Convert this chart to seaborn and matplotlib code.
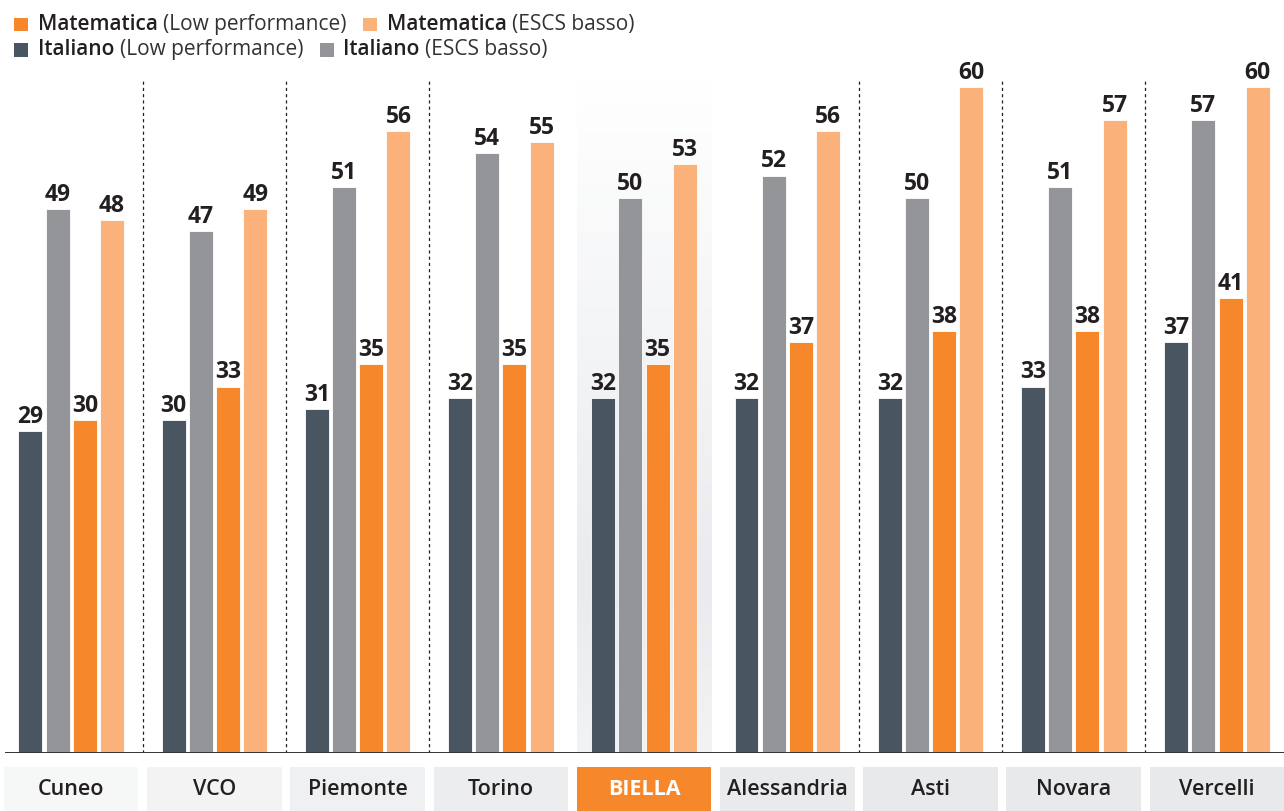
import numpy as np
import pandas as pd
import matplotlib
matplotlib.use("Agg")
import matplotlib.pyplot as plt
import matplotlib.transforms as mtransforms
import seaborn as sns
from matplotlib.patches import Rectangle
from matplotlib.colors import LinearSegmentedColormap
from matplotlib.offsetbox import HPacker, VPacker, TextArea, DrawingArea, AnchoredOffsetbox

# Dati
categories = ["Cuneo", "VCO", "Piemonte", "Torino", "BIELLA",
              "Alessandria", "Asti", "Novara", "Vercelli"]
ita_low = [29, 30, 31, 32, 32, 32, 32, 33, 37]
ita_escs = [49, 47, 51, 54, 50, 52, 50, 51, 57]
mat_low = [30, 33, 35, 35, 35, 37, 38, 38, 41]
mat_escs = [48, 49, 56, 55, 53, 56, 60, 57, 60]
series = ["Italiano (Low performance)", "Italiano (ESCS basso)",
          "Matematica (Low performance)", "Matematica (ESCS basso)"]
highlight = "BIELLA"

colors = ["#4a5562", "#939598", "#f6882b", "#fbb27a"]
box_colors = ["#f6f7f7", "#f3f3f4", "#eff0f1", "#ecedee", "#f6882b",
              "#e9eaec", "#e8e9eb", "#e8e9eb", "#e8e9eb"]
ink = "#231f20"

df = pd.DataFrame({
    "provincia": categories * 4,
    "serie": np.repeat(series, len(categories)),
    "valore": ita_low + ita_escs + mat_low + mat_escs,
})

sns.set_style("white")
plt.rcParams["font.family"] = ["Open Sans", "DejaVu Sans"]

fig = plt.figure(figsize=(12.84, 8.11), dpi=100)
ax = fig.add_axes([5 / 1284, 58 / 811, 1279 / 1284, 673 / 811])

ymax = 60.6
xl, xr = -0.462, 8.468

# sfondo sfumato per la provincia evidenziata
hi = categories.index(highlight)
cmap = LinearSegmentedColormap.from_list(
    "shade", [(0, "#ffffff"), (0.75, "#e9ebee"), (1, "#f2f3f4")])
grad = np.linspace(0, 1, 256).reshape(-1, 1)
ax.imshow(grad, cmap=cmap, extent=(hi - 0.47, hi + 0.47, 0, ymax),
          aspect="auto", zorder=0)

sns.barplot(data=df, x="provincia", y="valore", hue="serie",
            order=categories, hue_order=series, palette=colors,
            saturation=1, width=0.76, gap=0.12, legend=False,
            edgecolor="white", linewidth=0.6, ax=ax, zorder=2)

for c in ax.containers:
    ax.bar_label(c, padding=1.5, fontsize=16.5, fontweight="bold", color=ink)

# separatori tratteggiati
for i in range(len(categories) - 1):
    if highlight in (categories[i], categories[i + 1]):
        continue
    ax.vlines(i + 0.5, 0, ymax, colors=ink, linewidth=0.9,
              linestyles=(0, (2.5, 2.5)), zorder=1)

ax.axhline(0, color="#333333", linewidth=1.4, zorder=3)
ax.set_xlim(xl, xr)
ax.set_ylim(0, ymax)
ax.set_xticks([])
ax.set_yticks([])
ax.set_xlabel("")
ax.set_ylabel("")
sns.despine(ax=ax, left=True, bottom=True)

# etichette delle province in riquadri
trans = mtransforms.blended_transform_factory(ax.transData, ax.transAxes)
for i, cat in enumerate(categories):
    ax.add_patch(Rectangle((i - 0.47, -0.0862), 0.94, 0.0654,
                           transform=trans, facecolor=box_colors[i],
                           edgecolor="none", clip_on=False))
    is_hi = cat == highlight
    ax.text(i, -0.0535, cat, transform=trans, ha="center", va="center",
            fontsize=15.5, color="white" if is_hi else ink,
            fontweight="bold" if is_hi else "semibold")


# legenda
def legend_item(color, bold, rest):
    da = DrawingArea(10, 10)
    da.add_artist(Rectangle((0, 0), 10, 10, facecolor=color, linewidth=0))
    t1 = TextArea(bold, textprops=dict(fontsize=15, fontweight="semibold", color=ink))
    t2 = TextArea(rest, textprops=dict(fontsize=15, color="#333333"))
    return HPacker(children=[da, HPacker(children=[t1, t2], sep=4, align="baseline")],
                   sep=7, align="center")


row1 = HPacker(children=[legend_item(colors[2], "Matematica", "(Low performance)"),
                         legend_item(colors[3], "Matematica", "(ESCS basso)")],
               sep=12, align="center")
row2 = HPacker(children=[legend_item(colors[0], "Italiano", "(Low performance)"),
                         legend_item(colors[1], "Italiano", "(ESCS basso)")],
               sep=12, align="center")
leg = VPacker(children=[row1, row2], sep=3, align="left")
box = AnchoredOffsetbox(loc="upper left", child=leg, pad=0, borderpad=0,
                        frameon=False, bbox_to_anchor=(14 / 1284, 1 - 14 / 811),
                        bbox_transform=fig.transFigure)
fig.add_artist(box)

fig.savefig("out.png", dpi=100)
